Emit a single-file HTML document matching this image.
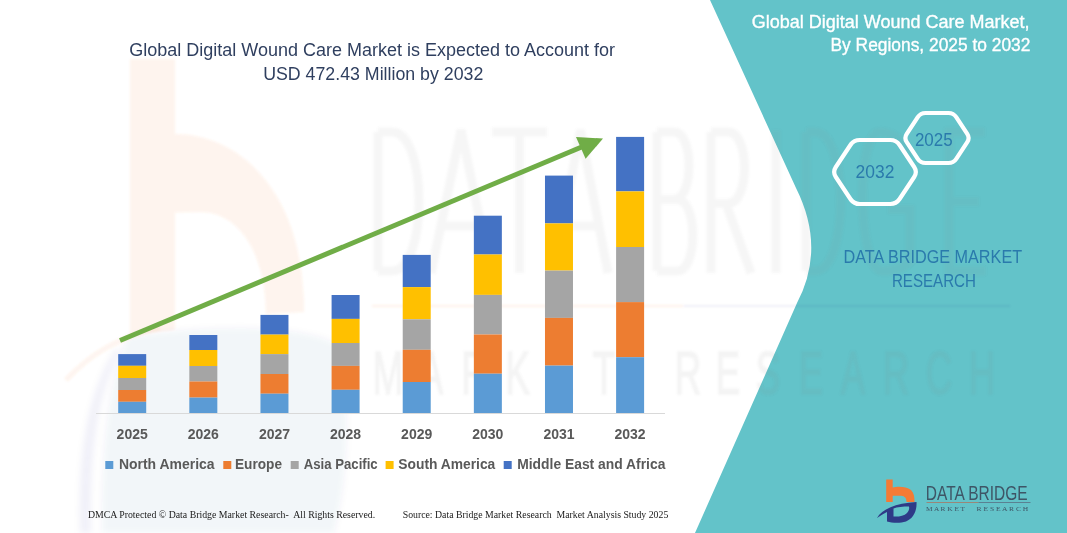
<!DOCTYPE html>
<html><head><meta charset="utf-8">
<style>
html,body{margin:0;padding:0;background:#fff;width:1067px;height:533px;overflow:hidden}
svg{display:block}
text{font-family:"Liberation Sans",sans-serif}
text.ser,.ser text{font-family:"Liberation Serif",serif}
</style></head><body>
<svg id="svg" width="1067" height="533" viewBox="0 0 1067 533">
<rect width="1067" height="533" fill="#fff"/>
<!-- teal panel -->
<path d="M710,0 L1067,0 L1067,533 L695,533 L797,303 Q826,248 796,188 Z" fill="#63C3C9"/>


<!-- watermarks -->
<defs><filter id="bl" x="-5%" y="-5%" width="110%" height="110%"><feGaussianBlur stdDeviation="1.2"/></filter><filter id="bl2" x="-20%" y="-20%" width="140%" height="140%"><feGaussianBlur stdDeviation="3"/></filter></defs>
<g id="wm" filter="url(#bl)">
<path d="M130,59 H175 V134 C235,134 300,185 304,300 L304,312 L266,314 C266,255 240,212 200,212 L175,212.6 V330 L130,335 Z" fill="#F47B35" opacity="0.085"/>
<g filter="url(#bl2)">
<path d="M128,336 C200,326 300,322 338,345 C352,400 348,480 334,533 L102,533 C101,450 108,380 128,336 Z" fill="#2E3A87" opacity="0.05"/>
<path d="M116,348 C92,385 77,440 80,533 L91,533 C90,450 97,395 120,352 Z" fill="#2E3A87" opacity="0.06"/>
</g>
<path d="M66,380 C90,355 115,338 160,328" fill="none" stroke="#F47B35" stroke-width="5" opacity="0.08"/>
<path d="M378,132 V271 M378,132 H392 C428,132 428,271 392,271 H378 M431,273 L461,130 L491,273 M443,226 H479 M492,132 H547 M519.5,132 V273 M553,273 L580.5,130 L608,273 M564,226 H597 M657,132 V271 M657,132 H674 C694,132 694,199.5 674,199.5 H657 M657,199.5 H677 C698,199.5 698,271 677,271 H657 M711,132 V273 M711,132 H728 C750,132 750,203.5 728,203.5 H711 M726,203.5 L751,273 M776,130 V273 M806,132 V271 M806,132 H815 C849,132 849,271 815,271 H806 M910,154 C900,134 885,132 880,132 C855,132 858,271 882,271 C895,271 905,267 910,261 V209.5 H888 M985,132 H949 V271 H986 M949,201.5 H979" fill="none" stroke="#808080" stroke-width="9" opacity="0.075"/>
<rect x="372" y="305" width="311" height="2" fill="#F47B35" opacity="0.1"/>
<rect x="683" y="305" width="327" height="2" fill="#2E3A87" opacity="0.06"/>
<g font-size="61" fill="#808080" opacity="0.085" stroke="#808080" stroke-width="1.5">
<text x="388" y="394" text-anchor="middle" transform="translate(388,0) scale(0.6,1) translate(-388,0)">M</text>
<text x="431" y="394" text-anchor="middle" transform="translate(431,0) scale(0.6,1) translate(-431,0)">A</text>
<text x="474.4" y="394" text-anchor="middle" transform="translate(474.4,0) scale(0.6,1) translate(-474.4,0)">R</text>
<text x="517.6" y="394" text-anchor="middle" transform="translate(517.6,0) scale(0.6,1) translate(-517.6,0)">K</text>
<text x="560.8" y="394" text-anchor="middle" transform="translate(560.8,0) scale(0.6,1) translate(-560.8,0)">E</text>
<text x="604" y="394" text-anchor="middle" transform="translate(604,0) scale(0.6,1) translate(-604,0)">T</text>
<text x="688" y="394" text-anchor="middle" transform="translate(688,0) scale(0.6,1) translate(-688,0)">R</text>
<text x="728" y="394" text-anchor="middle" transform="translate(728,0) scale(0.6,1) translate(-728,0)">E</text>
<text x="768" y="394" text-anchor="middle" transform="translate(768,0) scale(0.6,1) translate(-768,0)">S</text>
<text x="811" y="394" text-anchor="middle" transform="translate(811,0) scale(0.6,1) translate(-811,0)">E</text>
<text x="853" y="394" text-anchor="middle" transform="translate(853,0) scale(0.6,1) translate(-853,0)">A</text>
<text x="896" y="394" text-anchor="middle" transform="translate(896,0) scale(0.6,1) translate(-896,0)">R</text>
<text x="939" y="394" text-anchor="middle" transform="translate(939,0) scale(0.6,1) translate(-939,0)">C</text>
<text x="982" y="394" text-anchor="middle" transform="translate(982,0) scale(0.6,1) translate(-982,0)">H</text>
</g>
</g>

<!-- title -->
<g fill="#2F3F5F" font-size="18.3">
<text id="t1" x="129.3" y="56" textLength="485.7" lengthAdjust="spacingAndGlyphs">Global Digital Wound Care Market is Expected to Account for</text>
<text id="t2" x="263.2" y="79.5" textLength="220.1" lengthAdjust="spacingAndGlyphs">USD 472.43 Million by 2032</text>
</g>

<!-- axis -->
<rect x="96" y="413" width="569" height="1" fill="#D9D9D9"/>

<!-- bars -->
<g id="bars">
<rect x="118.20" y="354.10" width="28" height="11.70" fill="#4472C4"/>
<rect x="118.20" y="365.80" width="28" height="12.20" fill="#FFC000"/>
<rect x="118.20" y="378.00" width="28" height="12.00" fill="#A5A5A5"/>
<rect x="118.20" y="390.00" width="28" height="11.80" fill="#ED7D31"/>
<rect x="118.20" y="401.80" width="28" height="11.20" fill="#5B9BD5"/>
<rect x="189.33" y="335.00" width="28" height="15.00" fill="#4472C4"/>
<rect x="189.33" y="350.00" width="28" height="16.00" fill="#FFC000"/>
<rect x="189.33" y="366.00" width="28" height="15.50" fill="#A5A5A5"/>
<rect x="189.33" y="381.50" width="28" height="16.10" fill="#ED7D31"/>
<rect x="189.33" y="397.60" width="28" height="15.40" fill="#5B9BD5"/>
<rect x="260.46" y="314.90" width="28" height="19.70" fill="#4472C4"/>
<rect x="260.46" y="334.60" width="28" height="19.50" fill="#FFC000"/>
<rect x="260.46" y="354.10" width="28" height="19.90" fill="#A5A5A5"/>
<rect x="260.46" y="374.00" width="28" height="19.70" fill="#ED7D31"/>
<rect x="260.46" y="393.70" width="28" height="19.30" fill="#5B9BD5"/>
<rect x="331.59" y="295.00" width="28" height="23.90" fill="#4472C4"/>
<rect x="331.59" y="318.90" width="28" height="24.10" fill="#FFC000"/>
<rect x="331.59" y="343.00" width="28" height="22.90" fill="#A5A5A5"/>
<rect x="331.59" y="365.90" width="28" height="23.90" fill="#ED7D31"/>
<rect x="331.59" y="389.80" width="28" height="23.20" fill="#5B9BD5"/>
<rect x="402.72" y="254.90" width="28" height="32.20" fill="#4472C4"/>
<rect x="402.72" y="287.10" width="28" height="32.20" fill="#FFC000"/>
<rect x="402.72" y="319.30" width="28" height="30.50" fill="#A5A5A5"/>
<rect x="402.72" y="349.80" width="28" height="32.20" fill="#ED7D31"/>
<rect x="402.72" y="382.00" width="28" height="31.00" fill="#5B9BD5"/>
<rect x="473.85" y="215.70" width="28" height="38.80" fill="#4472C4"/>
<rect x="473.85" y="254.50" width="28" height="40.40" fill="#FFC000"/>
<rect x="473.85" y="294.90" width="28" height="39.60" fill="#A5A5A5"/>
<rect x="473.85" y="334.50" width="28" height="39.20" fill="#ED7D31"/>
<rect x="473.85" y="373.70" width="28" height="39.30" fill="#5B9BD5"/>
<rect x="544.98" y="175.60" width="28" height="47.80" fill="#4472C4"/>
<rect x="544.98" y="223.40" width="28" height="47.20" fill="#FFC000"/>
<rect x="544.98" y="270.60" width="28" height="47.30" fill="#A5A5A5"/>
<rect x="544.98" y="317.90" width="28" height="47.70" fill="#ED7D31"/>
<rect x="544.98" y="365.60" width="28" height="47.40" fill="#5B9BD5"/>
<rect x="616.11" y="136.90" width="28" height="54.50" fill="#4472C4"/>
<rect x="616.11" y="191.40" width="28" height="55.60" fill="#FFC000"/>
<rect x="616.11" y="247.00" width="28" height="55.10" fill="#A5A5A5"/>
<rect x="616.11" y="302.10" width="28" height="55.10" fill="#ED7D31"/>
<rect x="616.11" y="357.20" width="28" height="55.80" fill="#5B9BD5"/>
</g>

<!-- arrow -->
<line x1="120" y1="340.5" x2="590" y2="143.5" stroke="#70AD47" stroke-width="5"/>
<polygon points="576,136.9 603,138.6 585.6,158.8" fill="#70AD47"/>

<!-- years -->
<g fill="#595959" font-size="14" font-weight="bold" text-anchor="middle" id="years">
<text x="132.2" y="438.6">2025</text>
<text x="203.3" y="438.6">2026</text>
<text x="274.5" y="438.6">2027</text>
<text x="345.6" y="438.6">2028</text>
<text x="416.7" y="438.6">2029</text>
<text x="487.8" y="438.6">2030</text>
<text x="559.0" y="438.6">2031</text>
<text x="630.1" y="438.6">2032</text>
</g>

<!-- legend -->
<g fill="#595959" font-size="14" font-weight="bold">
<rect x="105.3" y="461" width="8" height="8" fill="#5B9BD5"/>
<text id="l1" x="118.9" y="469" textLength="95.7" lengthAdjust="spacingAndGlyphs">North America</text>
<rect x="223.3" y="461" width="8" height="8" fill="#ED7D31"/>
<text id="l2" x="235" y="469" textLength="47" lengthAdjust="spacingAndGlyphs">Europe</text>
<rect x="290.7" y="461" width="8" height="8" fill="#A5A5A5"/>
<text id="l3" x="303.7" y="469" textLength="74" lengthAdjust="spacingAndGlyphs">Asia Pacific</text>
<rect x="385.6" y="461" width="8" height="8" fill="#FFC000"/>
<text id="l4" x="398.3" y="469" textLength="97" lengthAdjust="spacingAndGlyphs">South America</text>
<rect x="503.7" y="461" width="8" height="8" fill="#4472C4"/>
<text id="l5" x="517.2" y="469" textLength="148.2" lengthAdjust="spacingAndGlyphs">Middle East and Africa</text>
</g>

<!-- footer -->
<g fill="#1a1a1a" font-size="10.8">
<text id="f1" class="ser" x="87.9" y="518.3" textLength="287.3" lengthAdjust="spacingAndGlyphs">DMCA Protected © Data Bridge Market Research-&#160; All Rights Reserved.</text>
<text id="f2" class="ser" x="402.7" y="518.3" textLength="265.6" lengthAdjust="spacingAndGlyphs">Source: Data Bridge Market Research&#160; Market Analysis Study 2025</text>
</g>

<!-- right panel text -->
<g fill="#fff" font-size="18" stroke="#fff" stroke-width="0.35">
<text id="r1" x="751.8" y="28.1" textLength="277.8" lengthAdjust="spacingAndGlyphs">Global Digital Wound Care Market,</text>
<text id="r2" x="830.5" y="51.4" textLength="199.9" lengthAdjust="spacingAndGlyphs">By Regions, 2025 to 2032</text>
</g>

<!-- hexagons -->
<g fill="none" stroke="#fff" stroke-width="4.2">
<path d="M835.82,177.00 Q832.50,172.00 835.82,167.00 L850.43,145.00 Q853.75,140.00 859.75,140.00 L890.25,140.00 Q896.25,140.00 899.57,145.00 L914.18,167.00 Q917.50,172.00 914.18,177.00 L899.57,199.00 Q896.25,204.00 890.25,204.00 L859.75,204.00 Q853.75,204.00 850.43,199.00 Z"/>
<path d="M906.75,142.17 Q904.00,138.00 906.75,133.83 L917.75,117.17 Q920.50,113.00 925.50,113.00 L948.50,113.00 Q953.50,113.00 956.25,117.17 L967.25,133.83 Q970.00,138.00 967.25,142.17 L956.25,158.83 Q953.50,163.00 948.50,163.00 L925.50,163.00 Q920.50,163.00 917.75,158.83 Z"/>
</g>
<g fill="#2A7AAC" font-size="18.5">
<text id="h1" x="855.6" y="177.7" textLength="38.8" lengthAdjust="spacingAndGlyphs">2032</text>
<text id="h2" x="914.9" y="146" textLength="37.8" lengthAdjust="spacingAndGlyphs">2025</text>
</g>

<g fill="#2A7AAC" font-size="18.3">
<text id="d1" x="843.5" y="262.9" textLength="178.6" lengthAdjust="spacingAndGlyphs">DATA BRIDGE MARKET</text>
<text id="d2" x="891.9" y="286.5" textLength="84" lengthAdjust="spacingAndGlyphs">RESEARCH</text>
</g>

<!-- bottom logo -->
<g id="logo">
<path d="M886.2,479.6 H892.7 V487.5 C897,486.5 906,486 911,490 C914,493 914.5,497 914.5,502 L906.5,502 C906.5,498.5 905,496 901,495.8 L892.7,495.8 V502 H886.2 Z" fill="#F47B35"/>
<path d="M877,518 C882,509 895,503.5 916.5,502 C917,510 914,518 906,521.5 C900,523.5 892,523 887,521.5 L887,512 C883,514 880,516 877,518 Z M893.5,508.5 L893.5,516.5 C898,517 904,516 907,513 C909,511 909.5,508.5 909,506.5 C903,506.5 897,507 893.5,508.5 Z" fill="#2E3A87" fill-rule="evenodd"/>
<text id="lg1" x="925.8" y="499.5" font-size="19.8" fill="#3E5566" textLength="101.9" lengthAdjust="spacingAndGlyphs">DATA BRIDGE</text>
<rect x="926.5" y="502" width="52" height="0.9" fill="#A08070"/>
<rect x="978.5" y="502" width="52" height="0.9" fill="#5A7A8C"/>
<text id="lg2" x="926" y="511" font-size="5.5" fill="#3E5566" class="ser" textLength="39" lengthAdjust="spacingAndGlyphs">M A R K E T</text>
<text id="lg3" x="976.6" y="511" font-size="5.5" fill="#3E5566" class="ser" textLength="51.7" lengthAdjust="spacingAndGlyphs">R E S E A R C H</text>
</g>
</svg>
</body></html>
